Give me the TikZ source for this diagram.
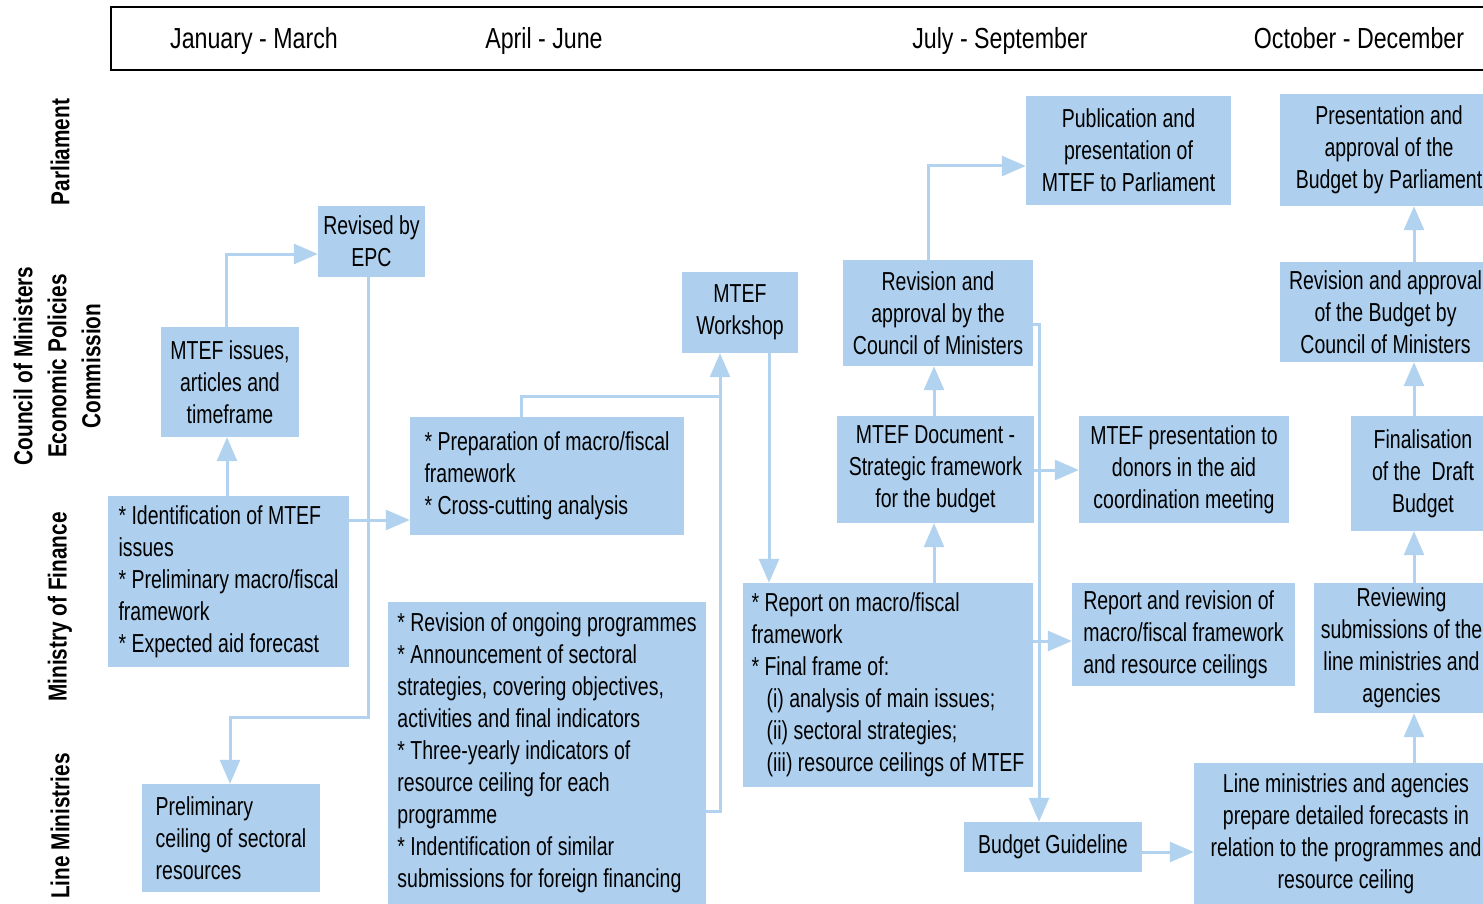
\documentclass[tikz,border=0pt]{standalone}
\usepackage{fontspec}
\setmainfont[FakeStretch=0.75]{Liberation Sans}
\newfontfamily\widefont[FakeStretch=0.8]{Liberation Sans}
\usetikzlibrary{arrows.meta}

\definecolor{boxblue}{RGB}{174,208,238}
\definecolor{lineblue}{RGB}{178,211,239}

\tikzset{
  stage/.style={fill=boxblue, inner sep=0pt, align=center, font=\fontsize{26}{32}\selectfont},
  flow/.style={draw=lineblue, line width=3pt, -{Triangle[length=24pt,width=20pt]}},
  link/.style={draw=lineblue, line width=3pt},
  month/.style={anchor=base, font=\widefont\fontsize{29}{34}\selectfont},
  actor/.style={rotate=90, align=center, font=\widefont\bfseries\fontsize{26}{34}\selectfont}
}

\begin{document}
\begin{tikzpicture}[x=1pt,y=-1pt]
    \useasboundingbox (0,0) rectangle (1483,904);
    \clip (0,0) rectangle (1483,904);

    % quarters
    \draw[line width=2.5pt] (1495,7) -- (111,7) -- (111,70) -- (1495,70);
    \node[month] (q1) at (254,49) {January - March};
    \node[month] (q2) at (544,49) {April - June};
    \node[month] (q3) at (1000,49) {July - September};
    \node[month] (q4) at (1359,49) {October - December};

    % actors
    \node[actor] (parlab) at (60,152) {Parliament};
    \node[actor] (comlab) at (57,366) {Council of Ministers\\Economic Policies\\Commission};
    \node[actor] (moflab) at (60,607) {Ministry of Finance};
    \node[actor] (linelab) at (60,826) {Line Ministries};

    \begin{scope}[every node/.style={stage}]
        \node[minimum width=107, minimum height=71] (epc) at (371.5,241.5) {Revised by\\EPC};
        \node[minimum width=138, minimum height=110] (issues) at (230,382) {MTEF issues,\\articles and\\timeframe};
        \node[align=left, minimum width=241, minimum height=171] (ident) at (228.5,581.5)
            {* Identification of MTEF\\issues\\* Preliminary macro/fiscal\\framework\\* Expected aid forecast};
        \node[align=left, minimum width=274, minimum height=118] (prep) at (547,476)
            {* Preparation of macro/fiscal\\framework\\* Cross-cutting analysis};
        \node[minimum width=116, minimum height=81] (workshop) at (740,312.5) {MTEF\\Workshop};
        \node[align=left, minimum width=318, minimum height=302] (ongoing) at (547,753)
            {* Revision of ongoing programmes\\* Announcement of sectoral\\strategies, covering objectives,\\activities and final indicators\\* Three-yearly indicators of\\resource ceiling for each\\programme\\* Indentification of similar\\submissions for foreign financing};
        \node[align=left, minimum width=178, minimum height=108] (prelim) at (231,838)
            {Preliminary\\ceiling of sectoral\\resources};

        \node[align=left, minimum width=290, minimum height=204] (report) at (888,685)
            {* Report on macro/fiscal\\framework\\* Final frame of:\\\hspace*{15pt}(i) analysis of main issues;\\\hspace*{15pt}(ii) sectoral strategies;\\\hspace*{15pt}(iii) resource ceilings of MTEF};
        \node[minimum width=197, minimum height=107] (mtefdoc) at (935.5,469.5) {MTEF Document -\\Strategic framework\\for the budget};
        \node[minimum width=190, minimum height=106] (revcom) at (938,313) {Revision and\\approval by the\\Council of Ministers};
        \node[minimum width=205, minimum height=109] (publ) at (1128.5,150.5) {Publication and\\presentation of\\MTEF to Parliament};
        \node[minimum width=210, minimum height=107] (donors) at (1184,469.5) {MTEF presentation to\\donors in the aid\\coordination meeting};
        \node[align=left, minimum width=223, minimum height=103] (reprev) at (1183.5,634.5)
            {Report and revision of\\macro/fiscal framework\\and resource ceilings};
        \node[minimum width=178, minimum height=50] (guide) at (1053,847) {Budget Guideline};

        \node[minimum width=304, minimum height=142] (lineprep) at (1346,834)
            {Line ministries and agencies\\prepare detailed forecasts in\\relation to the programmes and\\resource ceiling};
        \node[minimum width=175, minimum height=130] (review) at (1401.5,648)
            {Reviewing\\submissions of the\\line ministries and\\agencies};
        \node[minimum width=144, minimum height=115] (final) at (1423,473.5) {Finalisation\\of the~~Draft\\Budget};
        \node[minimum width=211, minimum height=100] (revbud) at (1385.5,312)
            {Revision and approval\\of the Budget by\\Council of Ministers};
        \node[minimum width=218, minimum height=112] (parl) at (1389,150)
            {Presentation and\\approval of the\\Budget by Parliament};
    \end{scope}

    \begin{scope}[every edge/.style={flow}]
        \path (ident.north -| 227,0) edge (issues.south -| 227,0);
        \path (ident.east |- 0,520) edge (prep.west |- 0,520);
        \path (workshop.south -| 769,0) edge (report.north -| 769,0);
        \path (report.north -| 934,0) edge (mtefdoc.south -| 934,0);
        \path (mtefdoc.north -| 934,0) edge (revcom.south -| 934,0);
        \path (mtefdoc.east |- 0,470) edge (donors.west |- 0,470);
        \path (report.east |- 0,641) edge (reprev.west |- 0,641);
        \path (guide.east |- 0,852) edge (lineprep.west |- 0,852);
        \path (lineprep.north -| 1414,0) edge (review.south -| 1414,0);
        \path (review.north -| 1414,0) edge (final.south -| 1414,0);
        \path (final.north -| 1414,0) edge (revbud.south -| 1414,0);
        \path (revbud.north -| 1414,0) edge (parl.south -| 1414,0);
    \end{scope}

    \draw[flow] (issues.north -| 226,0) |- (epc.west |- 0,254);
    \draw[flow] (epc.south -| 368,0) |- (230,717) -- (prelim.north -| 230,0);
    \draw[link] (prep.north -| 521,0) |- (720,396);
    \draw[flow] (ongoing.east |- 0,811) -| (workshop.south -| 720,0);
    \draw[flow] (revcom.north -| 928,0) |- (publ.west |- 0,166);
    \draw[flow] (revcom.east |- 0,324) -| (guide.north -| 1039,0);
\end{tikzpicture}
\end{document}
